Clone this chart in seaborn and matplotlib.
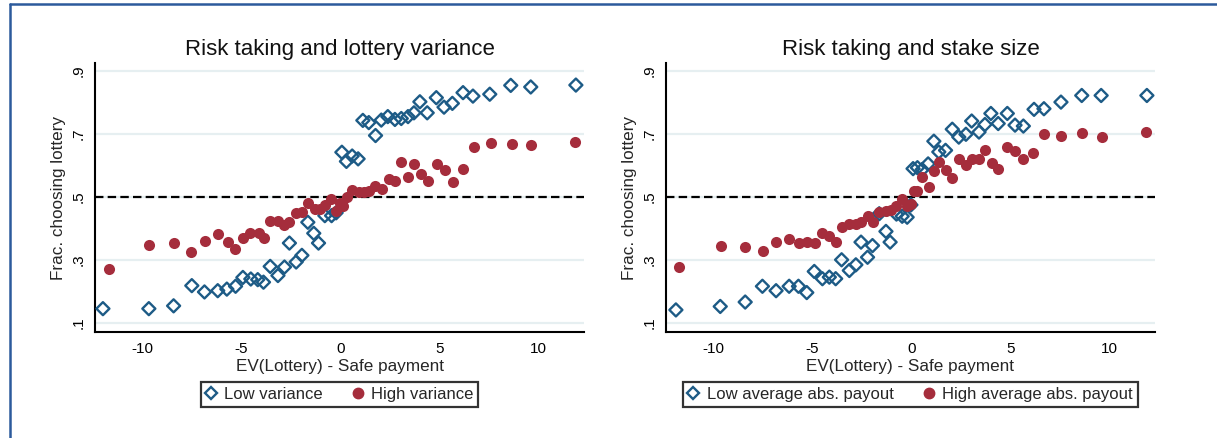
import matplotlib
matplotlib.use("Agg")
import matplotlib.pyplot as plt
from matplotlib.lines import Line2D
import seaborn as sns
import pandas as pd

# ---------------- data ----------------
titles = ["Risk taking and lottery variance", "Risk taking and stake size"]
xlabel = "EV(Lottery) - Safe payment"
ylabel = "Frac. choosing lottery"
legend_labels = [["Low variance", "High variance"],
                 ["Low average abs. payout", "High average abs. payout"]]
xticks = [-10, -5, 0, 5, 10]
yticks = [0.1, 0.3, 0.5, 0.7, 0.9]
ytick_labels = [".1", ".3", ".5", ".7", ".9"]

var_low_x = [-12.0, -9.68, -8.43, -7.51, -6.87, -6.2, -5.74, -5.30, -4.93, -4.53, -4.18, -3.89,
             -3.55, -3.16, -2.83, -2.58, -2.24, -1.95, -1.65, -1.35, -1.11, -0.79, -0.45, -0.22,
             0.07, 0.30, 0.59, 0.89, 1.13, 1.43, 1.77, 2.06, 2.39, 2.75, 3.07, 3.41, 3.71, 4.01,
             4.38, 4.84, 5.23, 5.65, 6.19, 6.69, 7.54, 8.60, 9.61, 11.89]
var_low_y = [.146, .146, .155, .219, .199, .203, .208, .217, .245, .240, .238, .230, .280, .251,
             .278, .354, .294, .315, .420, .385, .354, .441, .441, .450, .642, .613, .630, .621,
             .743, .736, .695, .744, .755, .746, .749, .755, .767, .802, .767, .815, .785, .797,
             .831, .820, .826, .854, .849, .855]

var_high_x = [-11.70, -9.65, -8.42, -7.54, -6.85, -6.18, -5.69, -5.32, -4.92, -4.56, -4.14, -3.84,
              -3.57, -3.16, -2.86, -2.58, -2.27, -1.95, -1.65, -1.31, -1.06, -0.79, -0.50, -0.21,
              -0.04, 0.12, 0.32, 0.56, 0.93, 1.18, 1.43, 1.74, 2.11, 2.45, 2.75, 3.07, 3.42, 3.71,
              4.05, 4.42, 4.86, 5.26, 5.68, 6.19, 6.75, 7.59, 8.65, 9.61, 11.84]
var_high_y = [.272, .349, .353, .327, .360, .384, .356, .336, .371, .385, .385, .369, .425, .425,
              .411, .422, .450, .452, .481, .463, .463, .474, .494, .457, .480, .471, .501, .522,
              .516, .517, .520, .536, .527, .558, .552, .612, .563, .605, .573, .552, .605, .587,
              .547, .590, .659, .672, .669, .664, .673]

stake_low_x = [-11.90, -9.66, -8.40, -7.53, -6.84, -6.18, -5.71, -5.29, -4.91, -4.50, -4.15, -3.83,
               -3.53, -3.14, -2.81, -2.55, -2.22, -1.97, -1.63, -1.29, -1.08, -0.76, -0.47, -0.22,
               -0.03, 0.08, 0.30, 0.54, 0.84, 1.13, 1.38, 1.72, 2.06, 2.39, 2.75, 3.04, 3.41, 3.71,
               4.01, 4.38, 4.84, 5.23, 5.65, 6.19, 6.69, 7.55, 8.60, 9.58, 11.89]
stake_low_y = [.142, .153, .167, .217, .203, .217, .217, .197, .264, .241, .246, .241, .301, .267,
               .285, .357, .309, .346, .447, .391, .357, .446, .439, .436, .475, .590, .593, .587,
               .605, .677, .643, .648, .715, .690, .699, .741, .706, .730, .765, .733, .765, .728,
               .725, .778, .780, .801, .822, .822, .822]

stake_high_x = [-11.73, -9.63, -8.40, -7.48, -6.84, -6.18, -5.68, -5.29, -4.87, -4.54, -4.15, -3.83,
                -3.53, -3.14, -2.81, -2.55, -2.22, -1.93, -1.63, -1.31, -1.04, -0.76, -0.50, -0.22,
                -0.03, 0.12, 0.29, 0.54, 0.88, 1.15, 1.40, 1.72, 2.06, 2.39, 2.73, 3.04, 3.41, 3.71,
                4.05, 4.38, 4.84, 5.23, 5.65, 6.16, 6.69, 7.55, 8.60, 9.61, 11.86]
stake_high_y = [.278, .344, .340, .330, .357, .368, .354, .357, .354, .386, .378, .357, .404, .413,
                .413, .420, .441, .421, .453, .457, .460, .471, .494, .471, .479, .518, .520, .564,
                .531, .582, .612, .585, .559, .621, .600, .621, .621, .649, .609, .588, .658, .645,
                .619, .640, .700, .695, .704, .690, .707]

# ---------------- style ----------------
sns.set_theme(style="white")
plt.rcParams["font.family"] = ["Liberation Sans", "DejaVu Sans"]

BLUE = "#1d5b86"
RED = "#a52d3c"
GRID = "#e6eff1"

W, H = 1217, 438
fig = plt.figure(figsize=(W / 100, H / 100), dpi=100)
fig.patch.set_facecolor("white")

# outer frame (top and left blue rules)
fig.add_artist(Line2D([10 / W, 1.0], [1 - 4 / H, 1 - 4 / H], color="#2c5a9c", lw=1.8,
                      transform=fig.transFigure))
fig.add_artist(Line2D([10 / W, 10 / W], [0.0, 1 - 4 / H], color="#2c5a9c", lw=1.8,
                      transform=fig.transFigure))

panels = [
    (95, var_low_x, var_low_y, var_high_x, var_high_y),
    (666, stake_low_x, stake_low_y, stake_high_x, stake_high_y),
]

for i, (left_px, lx, ly, hx, hy) in enumerate(panels):
    ax = fig.add_axes([left_px / W, 1 - 332 / H, 489 / W, 269 / H])
    ax.set_facecolor("white")
    for yt in yticks:
        ax.axhline(yt, color=GRID, lw=1.6, zorder=0)
    ax.axhline(0.5, color="black", lw=1.6, ls=(0, (3.8, 1.9)), zorder=1)

    df_low = pd.DataFrame({"x": lx, "y": ly})
    df_high = pd.DataFrame({"x": hx, "y": hy})
    sns.scatterplot(data=df_low, x="x", y="y", ax=ax, marker="D", s=44,
                    facecolors="none", edgecolor=BLUE, linewidth=1.7, zorder=3)
    sns.scatterplot(data=df_high, x="x", y="y", ax=ax, marker="o", s=64,
                    color=RED, edgecolor=RED, linewidth=0, zorder=3)

    ax.set_xlim(-12.4, 12.3)
    ax.set_ylim(0.072, 0.925)
    ax.set_xticks(xticks)
    ax.set_xticklabels([str(t) for t in xticks])
    ax.set_yticks(yticks)
    ax.set_yticklabels(ytick_labels, rotation=90, va="center")
    ax.tick_params(axis="both", direction="out", length=4.5, width=1.3, colors="black",
                   labelsize=11, pad=3)
    ax.tick_params(axis="y", pad=2)
    for side in ["top", "right"]:
        ax.spines[side].set_visible(False)
    for side in ["left", "bottom"]:
        ax.spines[side].set_color("black")
        ax.spines[side].set_linewidth(1.5)

    ax.set_title(titles[i], fontsize=16, pad=6, color="#111111")
    ax.set_xlabel(xlabel, fontsize=12.3, labelpad=2)
    ax.set_ylabel(ylabel, fontsize=12.3, labelpad=4)

    handles = [
        Line2D([], [], ls="none", marker="D", markersize=6.5, markerfacecolor="none",
               markeredgecolor=BLUE, markeredgewidth=1.7),
        Line2D([], [], ls="none", marker="o", markersize=7.5, markerfacecolor=RED,
               markeredgecolor=RED),
    ]
    leg = ax.legend(handles, legend_labels[i], loc="upper center",
                    bbox_to_anchor=(0.5, -0.186), ncol=2, frameon=True, fancybox=False,
                    fontsize=12, handlelength=0.6, handletextpad=0.5, columnspacing=1.8,
                    borderpad=0.3, borderaxespad=0)
    leg.get_frame().set_edgecolor("black")
    leg.get_frame().set_linewidth(1.6)

fig.savefig("out.png", dpi=100, facecolor="white")
